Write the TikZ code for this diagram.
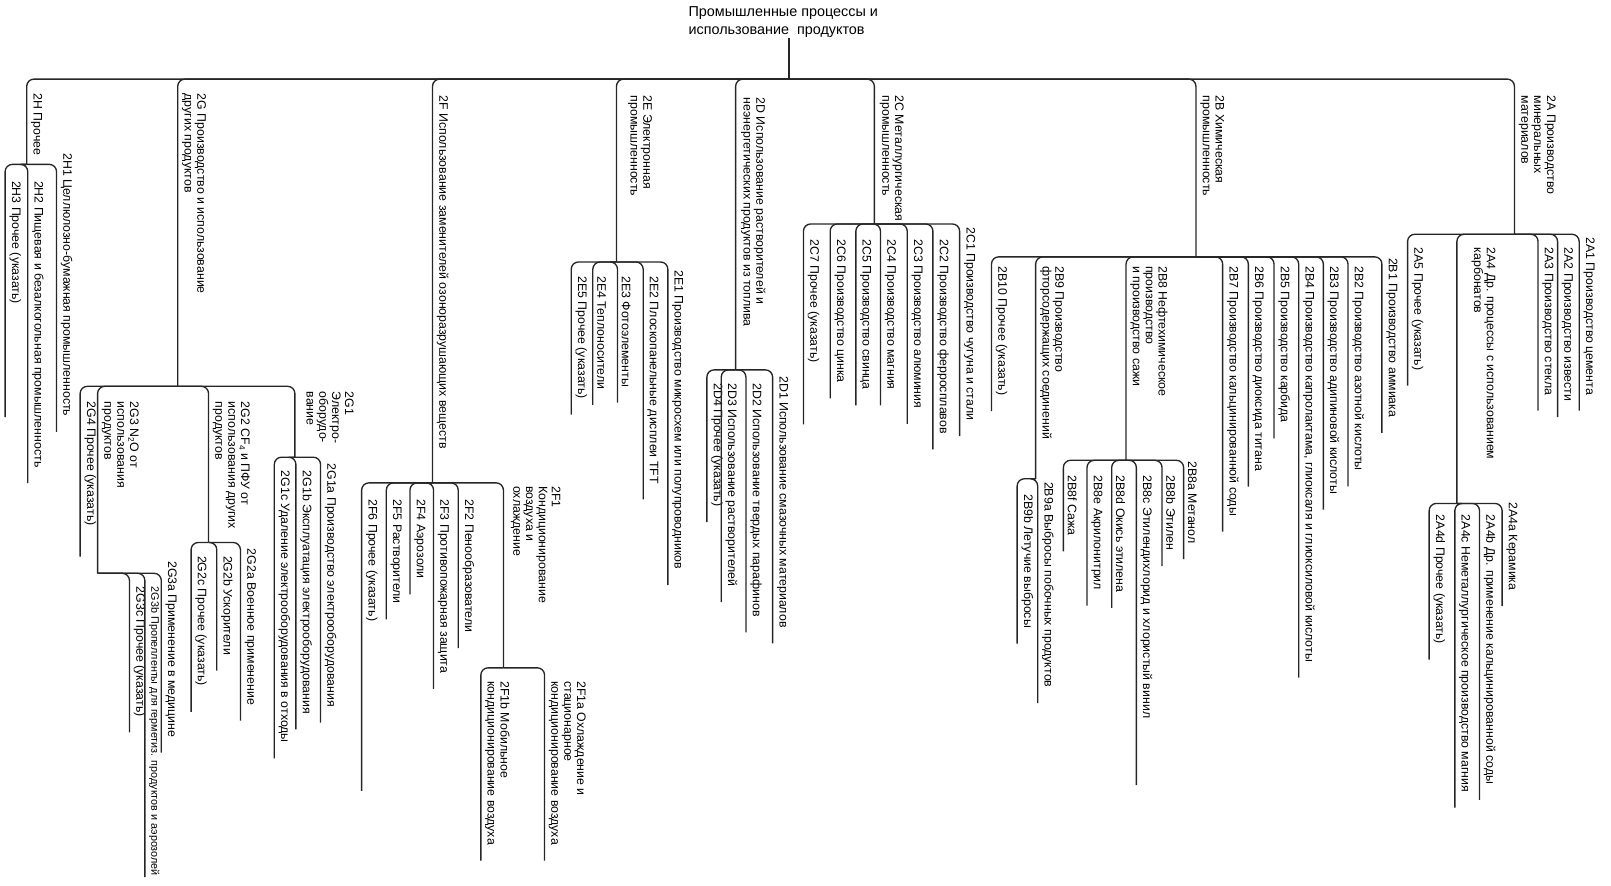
\documentclass[tikz,border=0pt]{standalone}
\usepackage{fontspec}
\setmainfont{Liberation Sans}

\begin{document}
\begin{tikzpicture}[
			x=1pt, y=-1pt
			,lab/.style={rotate=-90, anchor=south west, inner sep=1pt, align=left, font=\fontsize{12}{12.5}\selectfont}
			,ttl/.style={anchor=north west, inner sep=0pt, align=left, font=\fontsize{14}{18}\selectfont}
			,conn/.style={draw=black!85, line width=1.3pt, rounded corners=7pt}
			,lf/.style={xshift=-3pt, yshift=-14pt}
		]
			\useasboundingbox (0,0) rectangle (1568,862);

			\node [ttl] (R) at (670,6) {Промышленные процессы и\\использование\ \ продуктов};
			\coordinate (Rj) at (768,77);
			\draw [conn] (Rj |- R.south) -- (Rj);

			\node [lab] (H) at (29,90) {2H Прочее};
			\coordinate (Hj) at (26,160);
			\draw [conn] (Rj) -| (Hj);
			\node [lab] (H3) at (8,175) {2H3 Прочее (указать)};
			\node [lab] (H2) at (30,175) {2H2 Пищевая и безалкогольная промышленность};
			\node [lab] (H1) at (58,148) {2H1 Целлюлозно-бумажная промышленность};
			\draw [conn] (Hj) -| ([lf]H3.south east) -- ++(0,95);
			\draw [conn] (Hj) -| ([lf]H2.south east);
			\draw [conn] (Hj) -| ([lf]H1.south east);

			\node [lab] (G) at (176,90) {2G Производство и использование\\других продуктов};
			\coordinate (Gj) at (173,376);
			\draw [conn] (Rj) -| (Gj);
			\node [lab] (G4) at (81,390) {2G4 Прочее (указать)};
			\draw [conn] (Gj) -| ([lf]G4.south east) -- ++(0,15);
			\node [lab] (G3) at (98,390) {2G3 N\textsubscript{2}O от\\использования\\продуктов};
			\coordinate (G3j) at (95,558);
			\draw [conn] (Gj) -| (G3j);
			\node [lab] (G3c) at (129,570) {2G3c Прочее (указать)};
			\node [lab, font=\fontsize{10.5}{12}\selectfont] (G3b) at (144,570) {2G3b Пропелленты для герметиз. продуктов и аэрозолей};
			\node [lab] (G3a) at (160,545) {2G3a Применение в медицине};
			\draw [conn] (G3j) -| ([lf]G3c.south east);
			\draw [conn] (G3j) -| ([xshift=-3pt]G3b.south east);
			\draw [conn] (G3j) -| ([lf]G3a.south east);
			\node [lab] (G2) at (206,390) {2G2 CF\textsubscript{4} и ПФУ от\\использования других\\продуктов};
			\coordinate (G2j) at (203,528);
			\draw [conn] (Gj) -| (G2j);
			\node [lab] (G2c) at (189,540) {2G2c Прочее (указать)};
			\node [lab] (G2b) at (214,540) {2G2b Ускорители};
			\node [lab] (G2a) at (237,533) {2G2a Военное применение};
			\draw [conn] (G2j) -| ([lf]G2c.south east) -- ++(0,10);
			\draw [conn] (G2j) -| ([lf]G2b.south east);
			\draw [conn] (G2j) -| ([lf]G2a.south east);
			\node [lab] (G1) at (297,380) {2G1\\Электро-\\оборудо-\\вание};
			\coordinate (G1j) at (287,445);
			\draw [conn] (Gj) -| (G1j);
			\node [lab] (G1c) at (270,457) {2G1c Удаление электрооборудования в отходы};
			\node [lab] (G1b) at (291,457) {2G1b Эксплуатация электрооборудования};
			\node [lab] (G1a) at (315,450) {2G1a Производство электрооборудования};
			\draw [conn] (G1j) -| ([lf]G1c.south east);
			\draw [conn] (G1j) -| ([lf]G1b.south east);
			\draw [conn] (G1j) -| ([lf]G1a.south east);

			\node [lab] (F) at (424,92) {2F Использование заменителей озоноразрушающих веществ};
			\coordinate (Fj) at (421,470);
			\draw [conn] (Rj) -| (Fj);
			\node [lab] (F6) at (355,485) {2F6 Прочее (указать)};
			\node [lab] (F5) at (379,485) {2F5 Растворители};
			\node [lab] (F4) at (402,485) {2F4 Аэрозоли};
			\node [lab] (F3) at (425,485) {2F3 Противопожарная защита};
			\node [lab] (F2) at (449,485) {2F2 Пенообразователи};
			\draw [conn] (Fj) -| ([lf]F6.south east) -- ++(0,150);
			\draw [conn] (Fj) -| ([lf]F5.south east);
			\draw [conn] (Fj) -| ([lf]F4.south east);
			\draw [conn] (Fj) -| ([lf]F3.south east);
			\draw [conn] (Fj) -| ([lf]F2.south east);
			\node [lab] (F1) at (496,472) {2F1\\Кондиционирование\\воздуха и\\охлаждение};
			\coordinate (F1j) at (490,650);
			\draw [conn] (Fj) -| (F1j);
			\node [lab] (F1b) at (471,662) {2F1b Мобильное\\кондиционирование воздуха};
			\node [lab] (F1a) at (533,662) {2F1a Охлаждение и\\стационарное\\кондиционирование воздуха};
			\draw [conn] (F1j) -| ([lf]F1b.south east);
			\draw [conn] (F1j) -| ([lf]F1a.south east);

			\node [lab] (E) at (610,92) {2E Электронная\\промышленность};
			\coordinate (Ej) at (600,255);
			\draw [conn] (Rj) -| (Ej);
			\node [lab] (E5) at (559,268) {2E5 Прочее (указать)};
			\node [lab] (E4) at (580,268) {2E4 Теплоносители};
			\node [lab] (E3) at (604,268) {2E3 Фотоэлементы};
			\node [lab] (E2) at (629,268) {2E2 Плоскопанельные дисплеи TFT};
			\node [lab] (E1) at (653,262) {2E1 Производство микросхем или полупроводников};
			\draw [conn] (Ej) -| ([lf]E5.south east);
			\draw [conn] (Ej) -| ([lf]E4.south east);
			\draw [conn] (Ej) -| ([lf]E3.south east);
			\draw [conn] (Ej) -| ([lf]E2.south east);
			\draw [conn] (Ej) -| ([lf]E1.south east);

			\node [lab] (D) at (720,94) {2D Использование растворителей и\\неэнергетических продуктов из топлива};
			\coordinate (Dj) at (716,360);
			\draw [conn] (Rj) -| (Dj);
			\node [lab] (D4) at (691,372) {2D4 Прочее (указать)};
			\node [lab] (D3) at (705,372) {2D3 Использование растворителей};
			\node [lab] (D2) at (729,372) {2D2 Использование твердых парафинов};
			\node [lab] (D1) at (755,365) {2D1 Использование смазочных материалов};
			\draw [conn] (Dj) -| ([lf]D4.south east);
			\draw [conn] (Dj) -| ([lf]D3.south east);
			\draw [conn] (Dj) -| ([lf]D2.south east);
			\draw [conn] (Dj) -| ([lf]D1.south east);

			\node [lab] (C) at (855,92) {2C Металлургическая\\промышленность};
			\coordinate (Cj) at (851,218);
			\draw [conn] (Rj) -| (Cj);
			\node [lab] (C7) at (785,232) {2C7 Прочее (указать)};
			\node [lab] (C6) at (811,232) {2C6 Производство цинка};
			\node [lab] (C5) at (836,232) {2C5 Производство свинца};
			\node [lab] (C4) at (860,232) {2C4 Производство магния};
			\node [lab] (C3) at (886,232) {2C3 Производство алюминия};
			\node [lab] (C2) at (911,232) {2C2 Производство ферросплавов};
			\node [lab] (C1) at (937,220) {2C1 Производство чугуна и стали};
			\draw [conn] (Cj) -| ([lf]C7.south east) -- ++(0,45);
			\draw [conn] (Cj) -| ([lf]C6.south east);
			\draw [conn] (Cj) -| ([lf]C5.south east);
			\draw [conn] (Cj) -| ([lf]C4.south east);
			\draw [conn] (Cj) -| ([lf]C3.south east);
			\draw [conn] (Cj) -| ([lf]C2.south east);
			\draw [conn] (Cj) -| ([lf]C1.south east);

			\node [lab] (B) at (1167,92) {2B Химическая\\промышленность};
			\coordinate (Bj) at (1164,250);
			\draw [conn] (Rj) -| (Bj);
			\node [lab] (B10) at (968,258) {2B10 Прочее (указать)};
			\draw [conn] (Bj) -| ([lf]B10.south east);
			\node [lab] (B9) at (1011,258) {2B9 Производство\\фторсодержащих соединений};
			\coordinate (B9j) at (1008,466);
			\draw [conn] (Bj) -| (B9j);
			\node [lab] (B9b) at (993,480) {2B9b Летучие выбросы};
			\node [lab] (B9a) at (1013,468) {2B9a Выбросы побочных продуктов};
			\draw [conn] (B9j) -| ([lf]B9b.south east);
			\draw [conn] (B9j) -| ([lf]B9a.south east);
			\node [lab] (B8) at (1099,258) {2B8 Нефтехимическое\\производство\\и производство сажи};
			\coordinate (B8j) at (1096,448);
			\draw [conn] (Bj) -| (B8j);
			\node [lab] (B8f) at (1038,462) {2B8f Сажа};
			\node [lab] (B8e) at (1061,462) {2B8e Акрилонитрил};
			\node [lab] (B8d) at (1085,462) {2B8d Окись этилена};
			\node [lab] (B8c) at (1109,462) {2B8c Этилендихлорид и хлористый винил};
			\node [lab] (B8b) at (1134,462) {2B8b Этилен};
			\node [lab] (B8a) at (1155,448) {2B8a Метанол};
			\draw [conn] (B8j) -| ([lf]B8f.south east);
			\draw [conn] (B8j) -| ([lf]B8e.south east);
			\draw [conn] (B8j) -| ([lf]B8d.south east);
			\draw [conn] (B8j) -| ([lf]B8c.south east) -- ++(0,50);
			\draw [conn] (B8j) -| ([lf]B8b.south east);
			\draw [conn] (B8j) -| ([lf]B8a.south east);
			\node [lab] (B7) at (1193,258) {2B7 Производство кальцинированной соды};
			\node [lab] (B6) at (1218,258) {2B6 Производство диоксида титана};
			\node [lab] (B5) at (1243,258) {2B5 Производство карбида};
			\node [lab] (B4) at (1267,258) {2B4 Производство капролактама, глиоксаля и глиоксиловой кислоты};
			\node [lab] (B3) at (1291,258) {2B3 Производство адипиновой кислоты};
			\node [lab] (B2) at (1315,258) {2B2 Производство азотной кислоты};
			\node [lab] (B1) at (1348,250) {2B1 Производство аммиака};
			\draw [conn] (Bj) -| ([lf]B7.south east);
			\draw [conn] (Bj) -| ([lf]B6.south east);
			\draw [conn] (Bj) -| ([lf]B5.south east);
			\draw [conn] (Bj) -| ([lf]B4.south east);
			\draw [conn] (Bj) -| ([lf]B3.south east);
			\draw [conn] (Bj) -| ([lf]B2.south east);
			\draw [conn] (Bj) -| ([lf]B1.south east);

			\node [lab] (A) at (1477,92) {2A Производство\\минеральных\\материалов};
			\coordinate (Aj) at (1474,228);
			\draw [conn] (Rj) -| (Aj);
			\node [lab] (A5) at (1373,240) {2A5 Прочее (указать)};
			\draw [conn] (Aj) -| ([lf]A5.south east);
			\node [lab] (A4) at (1431,240) {2A4 Др. процессы с использованием\\карбонатов};
			\coordinate (A4j) at (1418,490);
			\draw [conn] (Aj) -| (A4j);
			\node [lab] (A4d) at (1394,500) {2A4d Прочее (указать)};
			\node [lab] (A4c) at (1419,500) {2A4c Неметаллургическое производство магния};
			\node [lab] (A4b) at (1443,500) {2A4b Др. применение кальцинированной соды};
			\node [lab] (A4a) at (1465,488) {2A4a Керамика};
			\draw [conn] (A4j) -| ([lf]A4d.south east);
			\draw [conn] (A4j) -| ([lf]A4c.south east);
			\draw [conn] (A4j) -| ([lf]A4b.south east);
			\draw [conn] (A4j) -| ([lf]A4a.south east);
			\node [lab] (A3) at (1500,240) {2A3 Производство стекла};
			\node [lab] (A2) at (1519,240) {2A2 Производство извести};
			\node [lab] (A1) at (1540,230) {2A1 Производство цемента};
			\draw [conn] (Aj) -| ([lf]A3.south east);
			\draw [conn] (Aj) -| ([lf]A2.south east);
			\draw [conn] (Aj) -| ([lf]A1.south east);
		\end{tikzpicture}
\end{document}
